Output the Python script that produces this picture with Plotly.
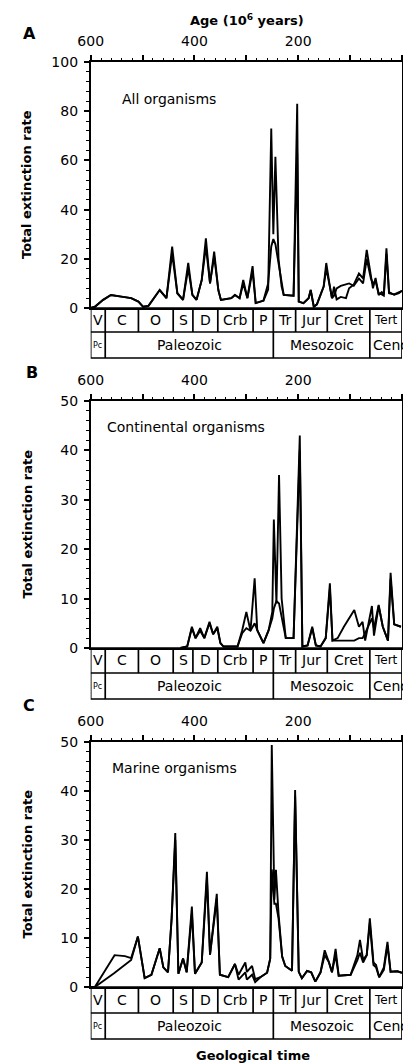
import plotly.graph_objects as go

# ---------------- data (ages in 10^6 years, rates) ----------------
AGE_A1 = [600, 592, 576, 561, 541, 522, 508, 499, 489, 476, 467, 454, 443, 433, 422, 412, 404, 396, 386, 378,
          370, 362, 354, 349, 329, 322, 313, 306, 298, 288, 282, 267, 258, 252, 248, 244, 238, 232, 228, 209,
          202, 199, 190, 180, 176, 170, 164, 151, 146, 139, 135, 131, 126, 118, 108, 102, 93, 83, 75, 68,
          60, 56, 51, 45, 39, 35, 30, 25, 15, 6, 0]
RATE_A1 = [0, 0.5, 3.3, 5.3, 4.6, 4, 2.6, 0.5, 0.8, 4.6, 7.3, 4, 25, 6, 3.3, 18.3, 5.3, 3.3, 11.4, 28.3,
           10, 22.9, 7.3, 3.3, 4, 5.3, 4, 11.4, 4, 17, 2, 3, 7.5, 73, 30, 61.5, 20, 8.7, 5.3, 5,
           83, 2.6, 2, 4, 7.3, 0.5, 1.5, 8.7, 18.3, 8.7, 4, 8.7, 3.5, 4.5, 4, 8, 9.5, 14, 12, 23.6,
           14, 8, 12.2, 5.3, 6.5, 5.5, 24.3, 6.5, 5.4, 6, 7]
AGE_A2 = AGE_A1
RATE_A2 = [0, 0.5, 3.3, 5.3, 4.6, 4, 2.6, 0.5, 0.8, 4.6, 7.3, 4, 22, 6, 3.3, 16, 5.3, 3.3, 11.4, 25,
           10, 21, 7.3, 3.3, 4, 5.3, 4, 10, 4, 15, 2, 3, 10, 25, 28, 26, 18, 8.7, 5.3, 5,
           63, 2.6, 2, 4, 7.3, 0.5, 1.5, 8.7, 16, 8.7, 4, 5, 8, 9, 9.5, 10, 9, 12, 10, 20,
           12, 10, 11, 6, 5.5, 5, 22, 6, 5.5, 6.5, 7]

AGE_B1 = [427, 414, 405, 398, 389, 381, 371, 364, 356, 350, 344, 317, 308, 300, 292, 284, 279, 267, 257, 250,
          247, 242, 237, 232, 224, 209, 197, 192, 182, 173, 166, 157, 147, 139, 134, 124, 112, 92, 83, 76,
          71, 58, 54, 45, 37, 27, 22, 15, 2]
RATE_B1 = [0, 0.3, 4.3, 2, 4, 2, 5.3, 2.8, 4.3, 1, 0.3, 0.3, 3.6, 7.3, 3.5, 14.1, 3.6, 1, 3.6, 7.3,
           26, 9, 35, 10, 2, 2, 43, 0.3, 0.5, 4.3, 0.5, 0.3, 2, 13.1, 1.5, 2, 4.3, 7.7, 4.3, 5.3,
           1.5, 8.5, 2.5, 8.5, 4.3, 1.5, 15.2, 4.8, 4.3]
AGE_B2 = AGE_B1
RATE_B2 = [0, 0.3, 4, 2, 3.5, 2, 5, 2.8, 4, 1, 0.3, 0.3, 3, 4, 3.5, 5, 3.6, 1, 3.6, 6,
           8, 9.5, 9, 6, 2, 2, 40, 0.3, 0.5, 4, 0.5, 0.3, 2, 12, 1.5, 1.5, 1.5, 1.5, 2, 2,
           3, 6, 4, 8.7, 4.3, 1.5, 14, 4.8, 4.3]

AGE_C1 = [600, 592, 554, 534, 522, 509, 496, 483, 467, 460, 451, 444, 437, 431, 422, 415, 405, 399, 386, 376,
          370, 357, 351, 335, 322, 315, 302, 299, 289, 283, 273, 260, 254, 251, 246, 243, 238, 231, 225, 212,
          206, 199, 193, 183, 175, 167, 157, 149, 141, 135, 128, 122, 99, 86, 81, 75, 68, 62, 55, 50,
          44, 35, 28, 22, 9, 0]
RATE_C1 = [0, 0, 6.5, 6.3, 5.9, 10.3, 1.8, 2.5, 7.9, 4, 3, 14, 31.4, 2.7, 5.8, 3, 16.4, 2.7, 5, 23.5,
           6.6, 19, 2.5, 2, 4.7, 2.5, 5, 3.1, 4.3, 1.6, 2, 2.9, 5.8, 49.4, 17.8, 23.9, 15, 6.2, 4.3, 3.3,
           40.2, 3.1, 1.8, 3.3, 3, 1.1, 3, 7.5, 5.1, 3, 7.8, 2.3, 2.5, 6.5, 9.6, 5.6, 6.5, 14, 5, 4.5,
           2, 4, 9.2, 3.1, 3.2, 2.9]
AGE_C2 = [600, 592, 555, 522, 509, 496, 483, 467, 460, 451, 444, 437, 431, 422, 415, 405, 399, 386, 376,
          370, 357, 351, 335, 322, 315, 302, 299, 289, 283, 273, 260, 254, 251, 246, 243, 238, 231, 225, 212,
          206, 199, 193, 183, 175, 167, 157, 149, 141, 135, 128, 122, 99, 86, 81, 75, 68, 62, 55, 50,
          44, 35, 28, 22, 9, 0]
RATE_C2 = [0, 0, 2.8, 5.5, 10.3, 1.8, 2.5, 7.9, 4, 3, 14, 30, 2.7, 5.8, 3, 15, 2.7, 5, 22,
           6.6, 18, 2.5, 2, 4.7, 1.5, 3, 1.5, 2.5, 1, 2, 2.9, 5.8, 24, 17, 17, 14, 6.2, 4.3, 3.3,
           39, 3.1, 1.8, 3.3, 3, 1.1, 3, 6.5, 5.1, 3, 6.5, 2.3, 2.5, 5.5, 7, 5, 6.5, 13, 4.5, 4,
           2, 3.5, 8.5, 3.1, 3.2, 2.9]

PERIOD_EDGES = [600, 572, 508, 441, 403, 355, 287, 248, 205, 144, 62, 0]
PERIOD_LABELS = ["V", "C", "O", "S", "D", "Crb", "P", "Tr", "Jur", "Cret", "Tert"]
ERA_EDGES = [600, 572, 248, 62, 0]
ERA_LABELS = ["Pc", "Paleozoic", "Mesozoic", "Cenozoic"]

PANEL_TITLES = ["All organisms", "Continental organisms", "Marine organisms"]
PANEL_LETTERS = ["A", "B", "C"]
Y_MAX = [100, 50, 50]
Y_DTICK = [20, 10, 10]
Y_MINOR = [4, 2, 2]

# ---------------- layout geometry (pixels) ----------------
W, H = 403, 1063
FONT = "DejaVu Sans"
X0_PX, X1_PX = 90.7, 402
PLOT_PX = [(62, 308), (401, 648), (742, 987)]          # top, bottom of each plot area
BOX_PX = [(308, 332, 358), (648, 673, 699), (987, 1013, 1039)]
LETTER_PX = [(29, 33), (32, 372), (29, 705)]
TITLE_PX = [(120, 99), (105, 427), (110, 768)]


def py(p):
    return 1 - p / H


def px(p):
    return p / W


series = [((AGE_A1, RATE_A1), (AGE_A2, RATE_A2)),
          ((AGE_B1, RATE_B1), (AGE_B2, RATE_B2)),
          ((AGE_C1, RATE_C1), (AGE_C2, RATE_C2))]

fig = go.Figure()
shapes = []
annotations = []
LW = 1.7

for i in range(3):
    xa = "x" if i == 0 else f"x{i+1}"
    ya = "y" if i == 0 else f"y{i+1}"
    for ages, rates in series[i]:
        fig.add_trace(go.Scatter(x=ages, y=rates, mode="lines", xaxis=xa, yaxis=ya,
                                 line=dict(color="black", width=1.9), showlegend=False,
                                 hoverinfo="skip"))
    top, bot = PLOT_PX[i]
    axkey = "" if i == 0 else str(i + 1)
    fig.layout["xaxis" + axkey] = dict(
        domain=[px(X0_PX), px(X1_PX)], anchor=ya, side="top", range=[600, 0], automargin=False,
        tick0=0, dtick=100, ticklabelstep=2,
        ticks="outside", ticklen=5, tickwidth=1.5, tickcolor="black",
        minor=dict(dtick=20, ticklen=2.5, tickwidth=1.3, tickcolor="black", ticks="outside"),
        showline=True, linecolor="black", linewidth=LW, mirror=True,
        showgrid=False, zeroline=False, ticklabelstandoff=4,
        tickfont=dict(family=FONT, size=14, color="black"))
    fig.layout["yaxis" + axkey] = dict(
        domain=[py(bot), py(top)], anchor=xa, range=[0, Y_MAX[i]], dtick=Y_DTICK[i], automargin=False,
        ticks="outside", ticklen=5, tickwidth=1.5, tickcolor="black",
        minor=dict(dtick=Y_MINOR[i], ticklen=3, tickwidth=1.3, tickcolor="black", ticks="outside"),
        showline=True, linecolor="black", linewidth=LW, mirror=True,
        showgrid=False, zeroline=False, ticklabelstandoff=3,
        tickfont=dict(family=FONT, size=14, color="black"))

    # geological boxes
    b0, b1, b2 = BOX_PX[i]
    shapes.append(dict(type="rect", xref=xa, yref="paper", x0=PERIOD_EDGES[0], x1=PERIOD_EDGES[-1],
                       y0=py(b2), y1=py(b0), line=dict(color="black", width=LW)))
    shapes.append(dict(type="line", xref=xa, yref="paper", x0=PERIOD_EDGES[0], x1=PERIOD_EDGES[-1],
                       y0=py(b1), y1=py(b1), line=dict(color="black", width=LW)))
    for e in PERIOD_EDGES[1:-1]:
        shapes.append(dict(type="line", xref=xa, yref="paper", x0=e, x1=e,
                           y0=py(b1), y1=py(b0), line=dict(color="black", width=LW)))
    for e in ERA_EDGES[1:-1]:
        shapes.append(dict(type="line", xref=xa, yref="paper", x0=e, x1=e,
                           y0=py(b2), y1=py(b1), line=dict(color="black", width=LW)))
    for k, lab in enumerate(PERIOD_LABELS):
        mid = (PERIOD_EDGES[k] + PERIOD_EDGES[k + 1]) / 2
        annotations.append(dict(x=mid, y=py((b0 + b1) / 2), xref=xa, yref="paper", text=lab,
                                showarrow=False, xanchor="center", yanchor="middle",
                                font=dict(family=FONT, size=12 if lab == "Tert" else 14, color="black")))
    for k, lab in enumerate(ERA_LABELS):
        if lab == "Cenozoic":
            annotations.append(dict(x=ERA_EDGES[k], y=py((b1 + b2) / 2), xref=xa, yref="paper", text=lab,
                                    showarrow=False, xanchor="left", yanchor="middle", xshift=1,
                                    font=dict(family=FONT, size=14, color="black")))
        else:
            mid = (ERA_EDGES[k] + ERA_EDGES[k + 1]) / 2
            annotations.append(dict(x=mid, y=py((b1 + b2) / 2), xref=xa, yref="paper", text=lab,
                                    showarrow=False, xanchor="center", yanchor="middle",
                                    font=dict(family=FONT, size=8 if lab == "Pc" else 14, color="black")))

    # letters, titles, y-axis title
    lx, ly = LETTER_PX[i]
    annotations.append(dict(x=px(lx), y=py(ly), xref="paper", yref="paper", text="<b>%s</b>" % PANEL_LETTERS[i],
                            showarrow=False, xanchor="center", yanchor="middle",
                            font=dict(family=FONT, size=16, color="black")))
    tx, ty = TITLE_PX[i]
    annotations.append(dict(x=px(tx), y=py(ty), xref="paper", yref="paper", text=PANEL_TITLES[i],
                            showarrow=False, xanchor="left", yanchor="middle",
                            font=dict(family=FONT, size=14, color="black")))
    annotations.append(dict(x=px(27), y=py((top + bot) / 2), xref="paper", yref="paper",
                            text="<b>Total extinction rate</b>", textangle=-90,
                            showarrow=False, xanchor="center", yanchor="middle",
                            font=dict(family=FONT, size=13, color="black")))

annotations.append(dict(x=px(247), y=py(20), xref="paper", yref="paper",
                        text="<b>Age (10<sup>6</sup> years)</b>", showarrow=False,
                        xanchor="center", yanchor="middle", font=dict(family=FONT, size=13, color="black")))
annotations.append(dict(x=px(253), y=py(1055), xref="paper", yref="paper",
                        text="<b>Geological time</b>", showarrow=False,
                        xanchor="center", yanchor="middle", font=dict(family=FONT, size=13, color="black")))

fig.update_layout(width=W, height=H, margin=dict(l=0, r=0, t=0, b=0, pad=0, autoexpand=False),
                  paper_bgcolor="white", plot_bgcolor="white",
                  shapes=shapes, annotations=annotations, showlegend=False,
                  font=dict(family=FONT, color="black"))
fig.write_html("out.html", config={"displayModeBar": False},
               post_script="document.body.style.margin='0px';document.body.style.padding='0px';"
                           "document.documentElement.style.overflow='hidden';")
